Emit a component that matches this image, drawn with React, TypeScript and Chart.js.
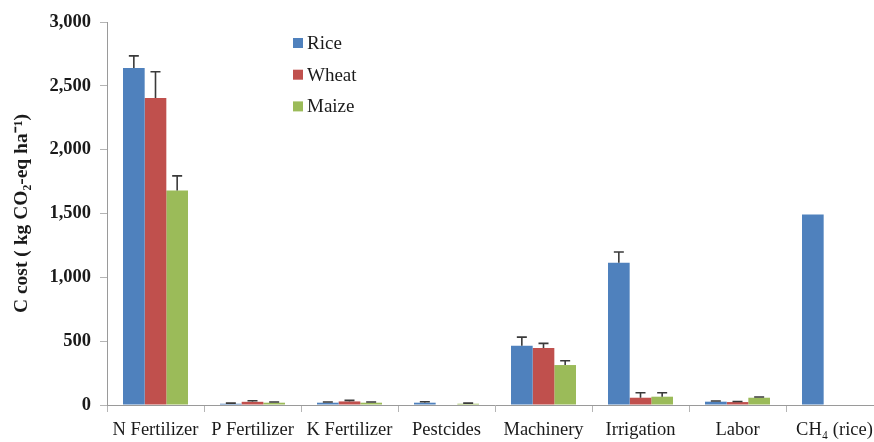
import React, { useEffect, useRef } from "react";
import { Chart, registerables } from "chart.js";

Chart.register(...registerables);

// Categories of carbon cost sources
const categories = [
  "N Fertilizer",
  "P Fertilizer",
  "K Fertilizer",
  "Pestcides",
  "Machinery",
  "Irrigation",
  "Labor",
  "CH₄ (rice)",
];

// Mean carbon cost (kg CO2-eq ha-1) and upper error for each crop
const riceValues = [2640, 10, 18, 18, 464, 1114, 26, 1493];
const riceErrors = [95, 5, 6, 8, 68, 84, 5, 0];
const wheatValues = [2405, 25, 28, 0, 446, 57, 23, 0];
const wheatErrors = [205, 8, 8, 0, 37, 39, 4, 0];
const maizeValues = [1680, 18, 18, 10, 313, 65, 57, 0];
const maizeErrors = [115, 6, 6, 5, 34, 31, 6, 0];

const seriesNames = ["Rice", "Wheat", "Maize"];
const seriesColors = ["#4F81BD", "#C0504D", "#9BBB59"];
const seriesErrors = [riceErrors, wheatErrors, maizeErrors];

const yMax = 3000;
const yStep = 500;

const FONT = "'Liberation Serif', 'Times New Roman', serif";

// Upper error bars with caps, drawn above each bar
const errorBarPlugin = {
  id: "errorBars",
  afterDatasetsDraw(chart: any) {
    const ctx = chart.ctx;
    const yScale = chart.scales.y;
    ctx.save();
    ctx.strokeStyle = "#3a3a3a";
    ctx.lineWidth = 1.6;
    chart.data.datasets.forEach((ds: any, di: number) => {
      const meta = chart.getDatasetMeta(di);
      const errs = seriesErrors[di];
      meta.data.forEach((bar: any, i: number) => {
        const v = ds.data[i];
        const e = errs[i];
        if (!e) return;
        const yTop = yScale.getPixelForValue(v + e);
        const yBase = yScale.getPixelForValue(v);
        ctx.beginPath();
        ctx.moveTo(bar.x, yBase);
        ctx.lineTo(bar.x, yTop);
        ctx.moveTo(bar.x - 5, yTop);
        ctx.lineTo(bar.x + 5, yTop);
        ctx.stroke();
      });
    });
    ctx.restore();
  },
};

// Vertical legend placed inside the plot area
const insideLegendPlugin = {
  id: "insideLegend",
  afterDraw(chart: any) {
    const ctx = chart.ctx;
    ctx.save();
    ctx.font = `19px ${FONT}`;
    ctx.textBaseline = "middle";
    ctx.textAlign = "left";
    chart.data.datasets.forEach((ds: any, i: number) => {
      const cy = 43 + i * 31.7;
      ctx.fillStyle = ds.backgroundColor;
      ctx.fillRect(293, cy - 5, 10, 10);
      ctx.fillStyle = "#1a1a1a";
      ctx.fillText(ds.label, 307, cy + 1);
    });
    ctx.restore();
  },
};

export default function App() {
  const canvasRef = useRef<HTMLCanvasElement | null>(null);

  useEffect(() => {
    if (!canvasRef.current) return;
    const chart = new Chart(canvasRef.current, {
      type: "bar",
      data: {
        labels: categories,
        datasets: [riceValues, wheatValues, maizeValues].map((vals, i) => ({
          label: seriesNames[i],
          data: vals,
          backgroundColor: seriesColors[i],
          borderWidth: 0,
          categoryPercentage: 0.67,
          barPercentage: 1.0,
        })),
      },
      options: {
        responsive: false,
        animation: false,
        devicePixelRatio: 1,
        layout: { padding: { top: 22, left: 0, right: 7, bottom: 0 } },
        plugins: {
          legend: { display: false },
          tooltip: { enabled: false },
        },
        scales: {
          x: {
            grid: {
              offset: true,
              drawOnChartArea: false,
              tickLength: 7,
              color: "#b5b5b5",
            },
            border: { color: "#9a9a9a" },
            ticks: {
              font: { family: FONT, size: 18.5 },
              color: "#1a1a1a",
              padding: 7,
              maxRotation: 0,
              autoSkip: false,
            },
            afterFit(scale: any) {
              scale.height = 37;
            },
          },
          y: {
            min: 0,
            max: yMax,
            grid: {
              drawOnChartArea: false,
              tickLength: 7,
              color: "#b5b5b5",
            },
            border: { color: "#9a9a9a" },
            ticks: {
              stepSize: yStep,
              font: { family: FONT, size: 18.5, weight: "bold" },
              color: "#1a1a1a",
              padding: 9,
              callback: (v: any) => Number(v).toLocaleString("en-US"),
            },
            title: {
              display: true,
              text: "C cost ( kg CO₂-eq ha⁻¹)",
              font: { family: FONT, size: 19.5, weight: "bold" },
              color: "#1a1a1a",
              padding: { top: 10, bottom: 0 },
            },
            afterFit(scale: any) {
              scale.width = 107;
            },
          },
        },
      },
      plugins: [errorBarPlugin, insideLegendPlugin],
    });
    return () => chart.destroy();
  }, []);

  return (
    <div
      style={{
        position: "fixed",
        left: 0,
        top: 0,
        width: 874,
        height: 442,
        overflow: "hidden",
        background: "#ffffff",
      }}
    >
      <canvas ref={canvasRef} width={890} height={442} style={{ display: "block" }} />
    </div>
  );
}
